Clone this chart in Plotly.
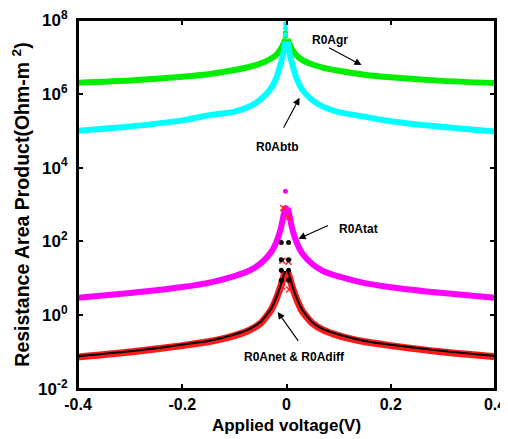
import plotly.graph_objects as go

# Applied voltage (V), negative and positive branches
voltage_neg = [-0.4, -0.3, -0.2, -0.15, -0.1, -0.07, -0.05, -0.03, -0.02, -0.01, -0.005, -0.002]
voltage_pos = [0.002, 0.005, 0.01, 0.02, 0.03, 0.05, 0.07, 0.1, 0.15, 0.2, 0.3, 0.4]

# R0A components (Ohm-m^2)
r0a_gr_neg = [2.0e6, 2.3e6, 2.9e6, 3.4e6, 4.4e6, 5.4e6, 6.6e6, 8.9e6, 1.12e7, 1.7e7, 2.4e7, 3.0e7]
r0a_gr_pos = [3.0e7, 2.4e7, 1.66e7, 1.07e7, 8.3e6, 6.2e6, 5.1e6, 4.2e6, 3.3e6, 2.8e6, 2.24e6, 1.95e6]
r0a_btb_neg = [1.0e5, 1.3e5, 1.9e5, 2.6e5, 3.3e5, 4.6e5, 7.0e5, 1.4e6, 2.6e6, 7.4e6, 1.45e7, 2.6e7]
r0a_btb_pos = [2.6e7, 1.4e7, 7.1e6, 2.5e6, 1.3e6, 6.6e5, 4.5e5, 3.2e5, 2.4e5, 1.8e5, 1.26e5, 9.5e4]
r0a_tat_neg = [2.95, 4.0, 5.8, 7.5, 11.5, 16.5, 25, 50, 92, 255, 570, 800]
r0a_tat_pos = [800, 562, 251, 89, 48, 24, 15.8, 11.2, 7.4, 5.75, 3.98, 2.95]
r0a_net_neg = [0.077, 0.105, 0.16, 0.2, 0.3, 0.43, 0.65, 1.45, 2.9, 7.3, 12.6, 16]
r0a_net_pos = [16, 12.6, 7.1, 2.8, 1.41, 0.63, 0.42, 0.30, 0.2, 0.158, 0.107, 0.079]
r0a_diff_neg = [0.073, 0.1, 0.15, 0.19, 0.28, 0.4, 0.6, 1.35, 2.7, 6.8, 11.5, 15]
r0a_diff_pos = [15, 11.5, 6.5, 2.6, 1.3, 0.6, 0.4, 0.28, 0.19, 0.15, 0.1, 0.075]

# sparse points right at zero bias
peak_v_gr = [-0.002, -0.002, -0.002]
peak_gr = [4.5e7, 3.6e7, 2.6e7]
peak_v_btb = [-0.002, -0.002, -0.002]
peak_btb = [7.9e7, 6.0e7, 4.0e7]
peak_v_tat = [-0.002, -0.004, 0.0, -0.004, 0.0]
peak_tat = [2300, 800, 800, 560, 560]
peak_v_net = [-0.01, 0.004, -0.01, 0.004, -0.01, 0.004, -0.01, 0.004]
peak_net = [93, 93, 32, 32, 16.6, 16.6, 8.9, 8.9]
peak_v_diff = [-0.006, 0.003, -0.008, 0.004, -0.006, 0.002, -0.008, 0.005]
peak_diff = [800, 450, 30, 28, 12, 10, 6, 5]

x_ticks = [-0.4, -0.2, 0, 0.2, 0.4]
y_ticks = [1e-2, 1e0, 1e2, 1e4, 1e6, 1e8]
y_tick_text = ["10<sup>-2</sup>", "10<sup>0</sup>", "10<sup>2</sup>",
               "10<sup>4</sup>", "10<sup>6</sup>", "10<sup>8</sup>"]

FONT = "Liberation Sans, Arial, sans-serif"

fig = go.Figure()

def band(x, y, color, width):
    fig.add_trace(go.Scatter(x=x, y=y, mode="lines",
                             line=dict(color=color, width=width, shape="spline", smoothing=0.6),
                             showlegend=False, hoverinfo="skip"))

def dots(x, y, color, symbol="circle", size=5):
    fig.add_trace(go.Scatter(x=x, y=y, mode="markers",
                             marker=dict(color=color, size=size, symbol=symbol,
                                         line=dict(width=0)),
                             showlegend=False, hoverinfo="skip"))

for xs, ys in ((voltage_neg, r0a_gr_neg), (voltage_pos, r0a_gr_pos)):
    band(xs, ys, "#00ee00", 6)
dots(peak_v_gr, peak_gr, "#00ee00")
for xs, ys in ((voltage_neg, r0a_btb_neg), (voltage_pos, r0a_btb_pos)):
    band(xs, ys, "#00ffff", 6)
dots(peak_v_btb, peak_btb, "#00ffff")
for xs, ys in ((voltage_neg, r0a_tat_neg), (voltage_pos, r0a_tat_pos)):
    band(xs, ys, "#ff00ff", 6)
dots(peak_v_tat, peak_tat, "#ff00ff")
for xs, ys in ((voltage_neg, r0a_diff_neg), (voltage_pos, r0a_diff_pos)):
    band(xs, ys, "#ff1a1a", 7)
fig.add_trace(go.Scatter(x=peak_v_diff, y=peak_diff, mode="markers",
                         marker=dict(color="#ff2020", size=6, symbol="x-thin",
                                     line=dict(width=1.5, color="#ff2020")),
                         showlegend=False, hoverinfo="skip"))
for xs, ys in ((voltage_neg, r0a_net_neg), (voltage_pos, r0a_net_pos)):
    band(xs, ys, "#000000", 2)
dots(peak_v_net, peak_net, "#000000", size=5)

ann_font = dict(family=FONT, size=12, color="black", weight="bold")

# annotation y positions are given as log10 values on the log axis
def label(text, x, ylog):
    fig.add_annotation(x=x, y=ylog, text=text, showarrow=False, font=ann_font,
                       xref="x", yref="y")

def arrow(x, ylog, ax, ay):
    fig.add_annotation(x=x, y=ylog, ax=ax, ay=ay, text=" ", showarrow=True,
                       arrowhead=2, arrowsize=1.3, arrowwidth=1.1, arrowcolor="black",
                       standoff=0, startstandoff=0, font=dict(size=1),
                       xref="x", yref="y")

label("R0Agr", 0.083, 7.46)
arrow(0.144, 6.78, -34, -18)
label("R0Abtb", -0.017, 4.56)
arrow(0.025, 5.89, -17, 32)
label("R0Atat", 0.138, 2.34)
arrow(0.023, 2.07, 31, -14)
label("R0Anet &amp; R0Adiff", 0.015, -1.13)
arrow(-0.017, 0.09, 22, 31)

# plot frame
fig.add_shape(type="rect", xref="paper", yref="paper", x0=0, x1=1, y0=0, y1=1,
              line=dict(color="black", width=2), layer="above")

axis_common = dict(showline=True, linecolor="black", linewidth=2, mirror="ticks",
                   ticks="inside", ticklen=5, tickwidth=1.5, tickcolor="black",
                   showgrid=False, zeroline=False, automargin=False,
                   ticklabeloverflow="allow")

# the page body adds an 8px offset, so the figure is 8px smaller than the window
fig.update_layout(
    width=500, height=431,
    margin=dict(l=70, r=13, t=12, b=50),
    paper_bgcolor="white", plot_bgcolor="white",
    font=dict(family=FONT, color="black"),
    xaxis=dict(range=[-0.4, 0.4], tickvals=x_ticks,
               ticktext=[f"{v:g}" for v in x_ticks],
               tickfont=dict(size=16, weight="bold", family=FONT),
               title=dict(text="Applied voltage(V)", standoff=7,
                          font=dict(size=17, weight="bold", family=FONT)),
               **axis_common),
    yaxis=dict(type="log", range=[-2, 8], tickvals=y_ticks, ticktext=y_tick_text,
               tickfont=dict(size=17, weight="bold", family=FONT),
               ticklabelstandoff=5,
               title=dict(text="Resistance Area Product(Ohm-m <sup>2</sup>)", standoff=3,
                          font=dict(size=19.5, weight="bold", family=FONT)),
               **axis_common),
)

fig.write_html("out.html")
